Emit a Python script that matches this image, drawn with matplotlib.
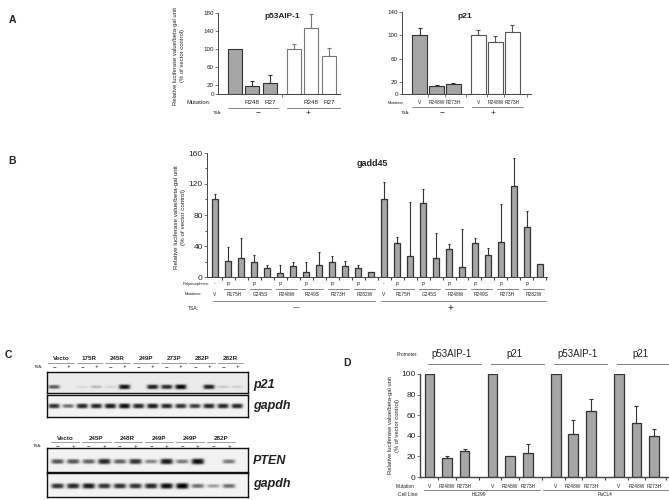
import numpy as np
import matplotlib.pyplot as plt
from matplotlib.lines import Line2D
from matplotlib.transforms import blended_transform_factory

plt.rcParams['font.family'] = ['Liberation Sans', 'DejaVu Sans']

W, H = 669, 500
GREY = '#a6a6a6'
EDGE = '#333333'
TXT = '#222222'

# ---------------- data ----------------
# A, p53AIP-1 reporter
a1_labels = ['', 'R248', 'R27', '', 'R248', 'R27']
a1_values = [100, 17, 25, 100, 147, 85]
a1_errors = [0, 11, 17, 10, 31, 17]

# A, p21 reporter
a2_labels = ['V', 'R248W', 'R273H', 'V', 'R248W', 'R273H']
a2_values = [100, 14, 17, 100, 89, 106]
a2_errors = [12, 1.5, 2, 10, 10, 12]

# B, gadd45 reporter (13 bars without TSA, 13 with TSA)
b_polymorphism = ['-', 'P', '', 'P', '', 'P', '', 'P', '', 'P', '', 'P', '']
b_mutations = ['V', 'R175H', 'G245S', 'R248W', 'R249S', 'R273H', 'R282W']
b_minus = [100, 21, 25, 20, 11, 5.5, 14, 7, 15.5, 19, 14, 11, 7]
b_minus_err = [7, 18, 25, 8, 4.5, 10.5, 6, 13, 16.5, 8, 7, 4, 0]
b_plus = [100, 44, 27, 96, 25, 36, 13, 44, 29, 45, 117, 64, 17]
b_plus_err = [22, 8, 70, 17.5, 32, 6, 49, 6.5, 9, 49, 37, 21, 0]

# C, western blots: band strength per lane (0 = no band)
c1_groups = ['Vecto', '175R', '245R', '249P', '273P', '282P', '282R']
c1_p21 = [0.6, 0.0, 0.08, 0.22, 0.1, 0.9, 0.0, 0.85, 0.8, 0.95, 0.0, 0.85, 0.15, 0.12]
c1_gapdh = [0.8, 0.55, 0.85, 0.85, 0.9, 0.95, 0.85, 0.9, 0.85, 0.8, 0.75, 0.85, 0.85, 0.85]
c2_groups = ['Vecto', '245P', '248R', '249P', '249P', '282P']
c2_pten = [0.65, 0.65, 0.6, 0.85, 0.6, 0.8, 0.45, 0.9, 0.5, 0.95, 0.0, 0.5]
c2_gapdh = [0.8, 0.85, 0.9, 0.8, 0.8, 0.8, 0.85, 0.95, 1.0, 0.55, 0.35, 0.55]

# D, reporters in two cell lines
d_promoters = ['p53AIP-1', 'p21', 'p53AIP-1', 'p21']
d_mutations = ['V', 'R248W', 'R273H']
d_cell_lines = ['H1299', 'PaCL4']
d_values = [100, 18, 25, 100, 20, 23, 100, 42, 64, 100, 52.5, 39.5]
d_errors = [0, 2, 2, 0, 0, 9, 0, 13, 12, 0, 16.5, 7.5]

# ---------------- helpers ----------------
fig = plt.figure(figsize=(W / 100, H / 100), dpi=100)


def px_axes(x0, y0, x1, y1):
    return fig.add_axes([x0 / W, 1 - y1 / H, (x1 - x0) / W, (y1 - y0) / H])


def fy(y):
    return 1 - y / H


def ftext(x, y, s, **kw):
    kw.setdefault('ha', 'center')
    kw.setdefault('va', 'center')
    kw.setdefault('color', TXT)
    fig.text(x / W, fy(y), s, **kw)


def atext(ax, x, y, s, **kw):
    # x in data units of ax, y in figure pixels
    kw.setdefault('ha', 'center')
    kw.setdefault('va', 'center')
    kw.setdefault('color', TXT)
    tr = blended_transform_factory(ax.transData, fig.transFigure)
    ax.text(x, fy(y), s, transform=tr, clip_on=False, **kw)


def aline(ax, x0, x1, y, lw=0.5, color='#555555'):
    tr = blended_transform_factory(ax.transData, fig.transFigure)
    ax.plot([x0, x1], [fy(y), fy(y)], transform=tr, clip_on=False, lw=lw, color=color)


def style(ax, fs):
    for s in ['top', 'right']:
        ax.spines[s].set_visible(False)
    for s in ['left', 'bottom']:
        ax.spines[s].set_linewidth(0.7)
        ax.spines[s].set_color('#444444')
    ax.tick_params(labelsize=fs, length=2, width=0.5, pad=1, colors='#444444',
                   labelcolor=TXT)


def errbars(ax, pos, vals, errs, color=EDGE, cap=1.2):
    pos = np.asarray(pos, float)
    vals = np.asarray(vals, float)
    errs = np.asarray(errs, float)
    m = errs > 0
    ax.errorbar(pos[m], vals[m], yerr=[np.zeros(m.sum()), errs[m]], fmt='none',
                ecolor=color, elinewidth=0.8, capsize=cap, capthick=0.8)


def boundaries(pos):
    pos = np.asarray(pos, float)
    return (pos[1:] + pos[:-1]) / 2


# ---------------- A, p53AIP-1 ----------------
ax = px_axes(218, 13, 340, 94)
pos = np.array([0, 1, 2, 3.37, 4.37, 5.37])
ax.bar(pos[:3], a1_values[:3], width=0.8, color=GREY, edgecolor=EDGE, lw=0.8)
ax.bar(pos[3:], a1_values[3:], width=0.8, color='white', edgecolor='#777777', lw=0.8)
errbars(ax, pos[:3], a1_values[:3], a1_errors[:3])
errbars(ax, pos[3:], a1_values[3:], a1_errors[3:], color='#777777')
ax.set_xlim(-0.97, 6.0)
ax.set_ylim(0, 180)
ax.set_yticks([0, 20, 60, 100, 140, 180])
ax.set_xticks([2.68])
ax.set_xticklabels([])
style(ax, 4.5)
ftext(282, 17, 'p53AIP-1', fontsize=6, fontweight='bold')
ftext(211, 102, 'Mutation:', fontsize=4.2, ha='right')
for p, lab in zip(pos, a1_labels):
    atext(ax, p, 102, lab, fontsize=4.5)
aline(ax, -0.4, 2.46, 108)
aline(ax, 2.97, 6.0, 108)
ftext(222, 113, 'TSA:', fontsize=3, ha='right')
atext(ax, 1.3, 113, '\u2212', fontsize=6)
atext(ax, 4.17, 113, '+', fontsize=6)
ftext(179, 56, 'Relative luciferase value/beta-gal unit\n(% of vector control)',
      rotation=90, fontsize=4.2, linespacing=1.3)

# ---------------- A, p21 ----------------
ax = px_axes(402, 12, 531, 94)
pos = np.array([0, 1, 2, 3.47, 4.47, 5.47])
ax.bar(pos[:3], a2_values[:3], width=0.88, color=GREY, edgecolor=EDGE, lw=0.8)
ax.bar(pos[3:], a2_values[3:], width=0.88, color='white', edgecolor='#555555', lw=0.8)
errbars(ax, pos[:3], a2_values[:3], a2_errors[:3])
errbars(ax, pos[3:], a2_values[3:], a2_errors[3:], color='#555555')
ax.set_xlim(-1.03, 6.56)
ax.set_ylim(0, 140)
ax.set_yticks([0, 20, 60, 100, 140])
ax.set_xticks(np.r_[boundaries(pos), 6.3])
ax.set_xticklabels([])
style(ax, 4.5)
ftext(465, 17, 'p21', fontsize=6, fontweight='bold')
ftext(404, 103, 'Mutation', fontsize=3, ha='right')
for p, lab in zip(pos, a2_labels):
    atext(ax, p, 103, lab, fontsize=3.5)
aline(ax, -0.44, 2.56, 107)
aline(ax, 3.09, 6.09, 107)
ftext(405, 113, 'TSA:', fontsize=3)
atext(ax, 1.32, 113, '\u2212', fontsize=6)
atext(ax, 4.32, 113, '+', fontsize=6)

# ---------------- B, gadd45 ----------------
ax = px_axes(207, 153, 547, 277)
b_vals = b_minus + b_plus
b_errs = b_minus_err + b_plus_err
pos = np.arange(len(b_vals))
ax.bar(pos, b_vals, width=0.48, color=GREY, edgecolor=EDGE, lw=0.9)
errbars(ax, pos, b_vals, b_errs, cap=1.0)
ax.set_xlim(-0.62, 25.54)
ax.set_ylim(0, 160)
ax.set_yticks(range(0, 161, 40))
ax.set_yticks(range(20, 161, 40), minor=True)
ax.set_xticks(np.r_[boundaries(pos), 25.5])
ax.set_xticklabels([])
style(ax, 6)
ax.tick_params(axis='x', length=2.5, width=0.8)
ax.tick_params(axis='y', which='minor', length=1.5, width=0.5)
ftext(372, 163, 'gadd45', fontsize=6.5, fontweight='bold')
ftext(210, 284, 'Polymorphism:', fontsize=3, ha='right')
ftext(202, 294, 'Mutation:', fontsize=3, ha='right')
ftext(193, 308, 'TSA:', fontsize=3.5)
for half in range(2):
    off = half * len(b_minus)
    for i, poly in enumerate(b_polymorphism):
        atext(ax, off + i, 284, poly, fontsize=3.5)
    atext(ax, off, 294, b_mutations[0], fontsize=3.5)
    for k, mut in enumerate(b_mutations[1:]):
        left = off + 1 + 2 * k
        atext(ax, left + 0.5, 294, mut, fontsize=3.5)
        aline(ax, left - 0.3, left + 1.3, 289, lw=0.5)
aline(ax, -0.15, 12.3, 301)
aline(ax, 12.77, 25.46, 301)
atext(ax, 6.3, 308, '\u2014', fontsize=5)
atext(ax, 18.1, 308, '+', fontsize=7)
ftext(180, 217, 'Relative luciferase value/beta-gal unit\n(% of vector control)',
      rotation=90, fontsize=4.5, linespacing=1.3)


# ---------------- C, blots ----------------
def blot(x0, y0, x1, y1, lane0, pitch, strengths, band_y, bg):
    bx = px_axes(x0, y0, x1, y1)
    lo = (x0 - lane0) / pitch
    hi = (x1 - lane0) / pitch
    xs = np.linspace(lo, hi, 4 * (x1 - x0))
    ys = np.linspace(0, 1, 4 * (y1 - y0))
    X, Y = np.meshgrid(xs, ys)
    img = np.full(X.shape, bg)
    for i, s in enumerate(strengths):
        if s <= 0:
            continue
        th = 0.05 + 0.07 * s
        img -= 0.95 * s * np.exp(-((X - i) / 0.4) ** 4) * np.exp(-np.abs((Y - band_y) / th) ** 3)
    bx.imshow(np.clip(img, 0, 1), cmap='gray', vmin=0, vmax=1, extent=(lo, hi, 0, 1),
              origin='lower', aspect='auto', interpolation='bilinear')
    bx.set_xlim(lo, hi)
    bx.set_ylim(0, 1)
    bx.set_xticks([])
    bx.set_yticks([])
    for sp in bx.spines.values():
        sp.set_linewidth(1.0)
        sp.set_color('#111111')
    return bx


def blot_header(bx, groups, y_name, y_line, y_tsa, x_tsa):
    for g, name in enumerate(groups):
        atext(bx, 2 * g + 0.5, y_name, name, fontsize=4.5, fontweight='bold')
        aline(bx, 2 * g - 0.4, 2 * g + 1.4, y_line, lw=0.5, color='#777777')
        atext(bx, 2 * g, y_tsa, '\u2212', fontsize=4.5)
        atext(bx, 2 * g + 1, y_tsa, '+', fontsize=4.5)
    ftext(x_tsa, y_tsa, 'TSA:', fontsize=3)


bx = blot(47, 372, 248, 393, 54, 14.1, c1_p21, 0.29, 0.92)
blot_header(bx, c1_groups, 358, 363, 367, 38)
blot(47, 395, 248, 417, 54, 14.1, c1_gapdh, 0.5, 0.95)
ftext(253, 385, 'p21', fontsize=9, fontweight='bold', style='italic', ha='left')
ftext(253, 406, 'gapdh', fontsize=9, fontweight='bold', style='italic', ha='left')

bx = blot(47, 448, 248, 472, 57.5, 15.6, c2_pten, 0.42, 0.95)
blot_header(bx, c2_groups, 438, 442, 446, 37)
blot(47, 473, 248, 497, 57.5, 15.6, c2_gapdh, 0.46, 0.95)
ftext(253, 461, 'PTEN', fontsize=9, fontweight='bold', style='italic', ha='left')
ftext(253, 484, 'gapdh', fontsize=9, fontweight='bold', style='italic', ha='left')

# ---------------- D ----------------
ax = px_axes(420, 374, 668, 477)
pos = np.array([g * 3.6 + j for g in range(4) for j in range(3)])
ax.bar(pos, d_values, width=0.55, color=GREY, edgecolor=EDGE, lw=0.9)
errbars(ax, pos, d_values, d_errors, cap=1.5)
ax.set_xlim(-0.54, 13.6)
ax.set_ylim(0, 100)
ax.set_yticks(range(0, 101, 20))
ax.set_xticks(np.r_[boundaries(pos), 13.5])
ax.set_xticklabels([])
style(ax, 6)
ax.tick_params(axis='x', length=2.5, width=0.8)
ax.spines['left'].set_linewidth(1.0)
ax.spines['bottom'].set_linewidth(1.0)
ftext(407, 355, 'Promoter:', fontsize=3.5)
for g, prom in enumerate(d_promoters):
    atext(ax, g * 3.6 + 1.25, 354, prom, fontsize=7)
    aline(ax, g * 3.6 - 0.1, g * 3.6 + 2.95, 364, lw=0.6, color='#666666')
ftext(405, 486, 'Mutation', fontsize=3.5)
for g in range(4):
    for j, mut in enumerate(d_mutations):
        atext(ax, g * 3.6 + j, 486, mut, fontsize=3.5)
mid = (pos[5] + pos[6]) / 2
aline(ax, -0.3, mid - 0.1, 490, lw=0.5)
aline(ax, mid + 0.1, 13.6, 490, lw=0.5)
ftext(408, 494, 'Cell Line:', fontsize=3.5)
atext(ax, (pos[0] + pos[5]) / 2, 494, d_cell_lines[0], fontsize=3.5)
atext(ax, (pos[6] + pos[11]) / 2, 494, d_cell_lines[1], fontsize=3.5)
ftext(394, 425, 'Relative luciferase value/beta-gal unit\n(% of vector control)',
      rotation=90, fontsize=4.2, linespacing=1.3)

# ---------------- panel letters ----------------
for letter, x, y in [('A', 12, 20), ('B', 12, 161), ('C', 8, 355), ('D', 347, 363)]:
    ftext(x, y, letter, fontsize=7.5, fontweight='bold')

fig.savefig('out.png', dpi=100)
